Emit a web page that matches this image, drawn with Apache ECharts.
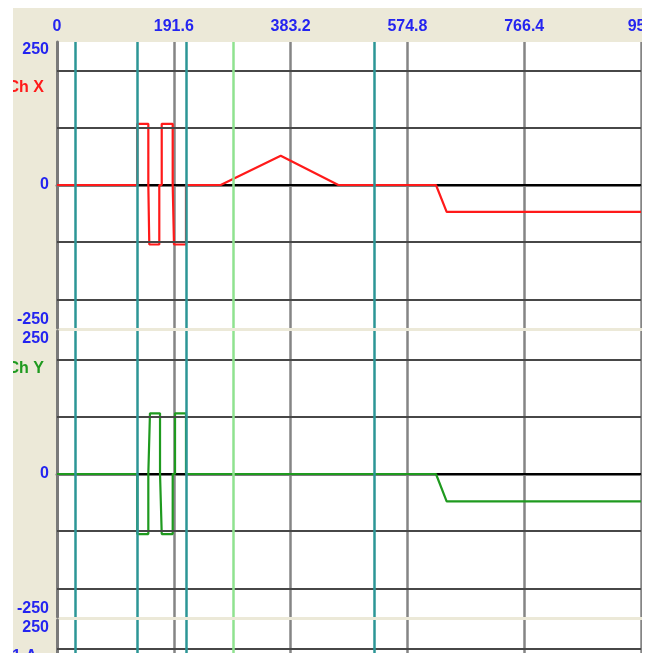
<!DOCTYPE html>
<html>
<head>
<meta charset="utf-8">
<script src="https://cdn.jsdelivr.net/npm/echarts@6/dist/echarts.min.js"></script>
<style>
  html, body { margin: 0; padding: 0; background: #fff; }
  #chart { width: 651px; height: 653px; }
</style>
</head>
<body>
<div id="chart"></div>
<script>
// Time axis (top) and cursor markers
const xTickStep = 191.6;
const xMax = 958;
const cursorsTeal = [30, 131, 212, 520];
const cursorsGreen = [289];

// Amplitude range and horizontal grid levels for every channel strip
const yRange = 250;
const yGridLevels = [-200, -100, 100, 200];

// Channel names and trace colours
const channelNames = ['Ch X', 'Ch Y', '1 A'];
const channelColors = ['#ff1a1a', '#1f9a1f', '#2a2aee'];

// Ch X trace: [time, amplitude]
const chX = [
  [0, 0], [131.7, 0], [131.7, 107], [149.8, 107], [149.8, 0], [151.4, 0],
  [151.4, -104], [167.8, -104], [167.8, 0], [171.8, 0], [171.8, 107],
  [189.8, 107], [189.8, 0], [191.9, 0], [191.9, -104], [211.6, -104],
  [211.6, 0], [268.5, 0], [367, 51], [461.5, 0], [621.7, 0], [639.2, -47],
  [958, -47]
];

// Ch Y trace: [time, amplitude]
const chY = [
  [0, 0], [131.7, 0], [131.7, -105], [149.8, -105], [149.8, 0], [152.5, 0],
  [152.5, 106], [169, 106], [169, 0], [171.8, 0], [171.8, -105],
  [189.8, -105], [189.8, 0], [193.6, 0], [193.6, 106], [211.6, 106],
  [211.6, 0], [621.7, 0], [639.2, -48], [958, -48]
];

const traces = [chX, chY, null];

const stripTop = 42, stripHeight = 286, stripPitch = 289;
// channel name placement inside each strip (offset below strip top, right gap to axis)
const nameOffsets = [-45.5, -37.5, -37];
const nameRightPad = [13, 13, 20];
const labelBlue = '#2424f0';
const labelFont = { fontFamily: 'Liberation Sans', fontWeight: 'bold', fontSize: 16 };

const grids = [], xAxes = [], yAxes = [], series = [];

channelNames.forEach((name, i) => {
  grids.push({
    left: 57, right: 10, top: stripTop + i * stripPitch, height: stripHeight,
    outerBoundsMode: 'none', containLabel: false,
    show: true, backgroundColor: '#ffffff', borderWidth: 0
  });
  xAxes.push({
    gridIndex: i, type: 'value', position: 'top', min: 0, max: xMax, interval: xTickStep,
    axisLine: { show: true, lineStyle: { color: '#7a7a7a', width: 3 } },
    axisTick: { show: false },
    axisLabel: {
      show: i === 0, showMaxLabel: true, showMinLabel: true, margin: 7,
      color: labelBlue, ...labelFont,
      formatter: v => String(Math.round(v * 10) / 10)
    },
    splitLine: { show: true, lineStyle: { color: '#858585', width: 2.5 } }
  });
  yAxes.push({
    gridIndex: i, type: 'value', min: -yRange, max: yRange, interval: yRange,
    name: name, nameLocation: 'end', nameGap: nameOffsets[i],
    nameTextStyle: {
      color: channelColors[i], ...labelFont, align: 'right', verticalAlign: 'middle',
      padding: [0, nameRightPad[i], 0, 0]
    },
    axisLine: { show: true, lineStyle: { color: '#7a7a7a', width: 3 } },
    axisTick: { show: false },
    axisLabel: {
      margin: 8, color: labelBlue, ...labelFont,
      verticalAlignMaxLabel: 'top', verticalAlignMinLabel: 'bottom'
    },
    splitLine: { show: false }
  });

  // guide lines: horizontal levels and vertical cursors
  const guideData = yGridLevels.map(v => ({ yAxis: v, lineStyle: { color: '#474747', width: 2 } }))
    .concat(cursorsTeal.map(v => ({ xAxis: v, lineStyle: { color: '#2c9696', width: 2.5 } })))
    .concat(cursorsGreen.map(v => ({ xAxis: v, lineStyle: { color: '#8fe28f', width: 2.5 } })));
  series.push({
    type: 'line', xAxisIndex: i, yAxisIndex: i, data: [], silent: true, z: 1,
    markLine: {
      silent: true, symbol: ['none', 'none'], label: { show: false }, animation: false,
      lineStyle: { type: 'solid' }, data: guideData
    }
  });
  // zero baseline
  series.push({
    type: 'line', xAxisIndex: i, yAxisIndex: i, data: [[0, 0], [xMax, 0]],
    symbol: 'none', silent: true, z: 2, animation: false,
    lineStyle: { color: '#000000', width: 2 }
  });
  if (traces[i]) {
    series.push({
      name: name, type: 'line', xAxisIndex: i, yAxisIndex: i, data: traces[i],
      symbol: 'none', z: 3, animation: false,
      lineStyle: { color: channelColors[i], width: 2.2 }
    });
  }
});

const chart = echarts.init(document.getElementById('chart'), null, { renderer: 'canvas' });
chart.setOption({
  backgroundColor: '#ece9d8',
  animation: false,
  grid: grids,
  xAxis: xAxes,
  yAxis: yAxes,
  series: series,
  graphic: [
    { type: 'rect', left: 0, top: 0, shape: { width: 13, height: 653 }, style: { fill: '#ffffff' }, z: 100 },
    { type: 'rect', left: 0, top: 0, shape: { width: 651, height: 8 }, style: { fill: '#ffffff' }, z: 100 },
    { type: 'rect', left: 642, top: 0, shape: { width: 9, height: 653 }, style: { fill: '#ffffff' }, z: 100 }
  ]
});
</script>
</body>
</html>
